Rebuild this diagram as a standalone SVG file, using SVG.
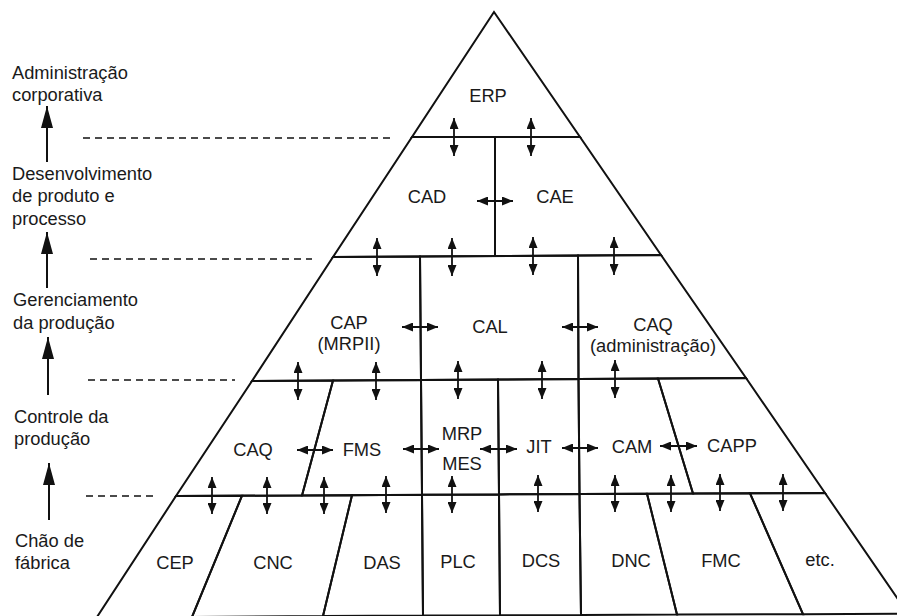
<svg xmlns="http://www.w3.org/2000/svg" width="897" height="616" viewBox="0 0 897 616">
  <style>
    .cell { fill: none; stroke: #111; stroke-width: 2; stroke-linejoin: miter; }
    .lbl { font-family: "Liberation Sans", Arial, Helvetica, sans-serif; font-size: 18.3px; fill: #1a1a1a; }
    .mid { text-anchor: middle; }
    .dbl { stroke: #111; stroke-width: 1.8; fill: none; marker-start: url(#head); marker-end: url(#head); }
    .up { stroke: #111; stroke-width: 2; fill: none; marker-end: url(#bighead); }
    .dash { stroke: #111; stroke-width: 1.6; stroke-dasharray: 7 5; fill: none; }
  </style>
  <defs>
    <marker id="head" viewBox="0 0 11 9" refX="11" refY="4.5" markerWidth="11" markerHeight="9" markerUnits="userSpaceOnUse" orient="auto-start-reverse">
      <path d="M0,0 L11,4.5 L0,9 z" fill="#111"/>
    </marker>
    <marker id="bighead" viewBox="0 0 22 12" refX="22" refY="6" markerWidth="22" markerHeight="12" markerUnits="userSpaceOnUse" orient="auto">
      <path d="M0,0 L22,6 L0,12 z" fill="#111"/>
    </marker>
  </defs>

  <rect x="0" y="0" width="897" height="616" fill="#fff"/>

  <!-- level scale on the left -->
  <g id="scale">
    <text class="lbl" x="12" y="79">Administração</text>
    <text class="lbl" x="12" y="101">corporativa</text>
    <text class="lbl" x="12" y="180">Desenvolvimento</text>
    <text class="lbl" x="12" y="202">de produto e</text>
    <text class="lbl" x="12" y="225">processo</text>
    <text class="lbl" x="13" y="306">Gerenciamento</text>
    <text class="lbl" x="13" y="329">da produção</text>
    <text class="lbl" x="14" y="423">Controle da</text>
    <text class="lbl" x="14" y="445">produção</text>
    <text class="lbl" x="15" y="547">Chão de</text>
    <text class="lbl" x="15" y="569">fábrica</text>
    <line class="up" x1="47" y1="162" x2="47" y2="106"/>
    <line class="up" x1="47" y1="288" x2="47" y2="232"/>
    <line class="up" x1="48" y1="395" x2="48" y2="337"/>
    <line class="up" x1="49" y1="520" x2="49" y2="463"/>
    <line class="dash" x1="83" y1="138" x2="392" y2="138"/>
    <line class="dash" x1="90" y1="259" x2="312" y2="259"/>
    <line class="dash" x1="88" y1="380" x2="235" y2="380"/>
    <line class="dash" x1="86" y1="496" x2="155" y2="496"/>
  </g>

  <!-- pyramid cells: top level -->
  <g id="erp">
    <polygon class="cell" points="494,12 580,137 412,137"/>
    <text class="lbl mid" x="488" y="102">ERP</text>
  </g>

  <!-- product and process development -->
  <g id="cad">
    <polygon class="cell" points="412,137 495,137 495,256 333,257"/>
    <text class="lbl mid" x="427" y="203">CAD</text>
  </g>
  <g id="cae">
    <polygon class="cell" points="495,137 580,137 661,255 495,256"/>
    <text class="lbl mid" x="555" y="203">CAE</text>
  </g>

  <!-- production management -->
  <g id="cap">
    <polygon class="cell" points="333,257 420,256.5 421,380 252,381"/>
    <text class="lbl mid" x="349" y="329">CAP</text>
    <text class="lbl mid" x="349" y="350">(MRPII)</text>
  </g>
  <g id="cal">
    <polygon class="cell" points="420,256.5 578,255.5 578.5,379 421,380"/>
    <text class="lbl mid" x="490" y="333">CAL</text>
  </g>
  <g id="caq-adm">
    <polygon class="cell" points="578,255.5 661,255 746,378 578.5,379"/>
    <text class="lbl mid" x="653" y="331">CAQ</text>
    <text class="lbl mid" x="653" y="352">(administração)</text>
  </g>

  <!-- production control -->
  <g id="caq">
    <polygon class="cell" points="252,381 333,380.5 302,495.4 176,496"/>
    <text class="lbl mid" x="253" y="456">CAQ</text>
  </g>
  <g id="fms">
    <polygon class="cell" points="333,380.5 421,380 422,494.8 302,495.4"/>
    <text class="lbl mid" x="362" y="456">FMS</text>
  </g>
  <g id="mrp-mes">
    <polygon class="cell" points="421,380 498,379.5 499,494.4 422,494.8"/>
    <text class="lbl mid" x="462" y="440">MRP</text>
    <text class="lbl mid" x="462" y="470">MES</text>
  </g>
  <g id="jit">
    <polygon class="cell" points="498,379.5 578.5,379 579.5,494 499,494.4"/>
    <text class="lbl mid" x="539" y="453">JIT</text>
  </g>
  <g id="cam">
    <polygon class="cell" points="578.5,379 658,378.5 693,493.5 579.5,494"/>
    <text class="lbl mid" x="632" y="453">CAM</text>
  </g>
  <g id="capp">
    <polygon class="cell" points="658,378.5 746,378 825,493 693,493.5"/>
    <text class="lbl mid" x="732" y="452">CAPP</text>
  </g>

  <!-- shop floor -->
  <g id="cep">
    <polygon class="cell" points="176,496 242,495.7 192,617 97,617"/>
    <text class="lbl mid" x="175" y="569">CEP</text>
  </g>
  <g id="cnc">
    <polygon class="cell" points="242,495.7 352,495.2 323,616 192,617"/>
    <text class="lbl mid" x="273" y="569">CNC</text>
  </g>
  <g id="das">
    <polygon class="cell" points="352,495.2 422,494.8 423,615.5 323,616"/>
    <text class="lbl mid" x="382" y="569">DAS</text>
  </g>
  <g id="plc">
    <polygon class="cell" points="422,494.8 499,494.4 500,615.2 423,615.5"/>
    <text class="lbl mid" x="458" y="568">PLC</text>
  </g>
  <g id="dcs">
    <polygon class="cell" points="499,494.4 579.5,494 581,614.9 500,615.2"/>
    <text class="lbl mid" x="541" y="567">DCS</text>
  </g>
  <g id="dnc">
    <polygon class="cell" points="579.5,494 647,493.7 677,614.6 581,614.9"/>
    <text class="lbl mid" x="631" y="567">DNC</text>
  </g>
  <g id="fmc">
    <polygon class="cell" points="647,493.7 750,493.3 803,614.2 677,614.6"/>
    <text class="lbl mid" x="721" y="567">FMC</text>
  </g>
  <g id="etc">
    <polygon class="cell" points="750,493.3 825,493 908,613.7 803,614.2"/>
    <text class="lbl mid" x="820" y="566">etc.</text>
  </g>

  <!-- two-way links between cells -->
  <g id="connectors">
    <line class="dbl" x1="454" y1="118" x2="454" y2="156"/>
    <line class="dbl" x1="531" y1="118" x2="531" y2="156"/>
    <line class="dbl" x1="477" y1="201" x2="513" y2="201"/>

    <line class="dbl" x1="377" y1="238" x2="377" y2="276"/>
    <line class="dbl" x1="452" y1="238" x2="452" y2="276"/>
    <line class="dbl" x1="533" y1="237" x2="533" y2="275"/>
    <line class="dbl" x1="614" y1="237" x2="614" y2="275"/>

    <line class="dbl" x1="402" y1="327" x2="438" y2="327"/>
    <line class="dbl" x1="562" y1="327" x2="598" y2="327"/>

    <line class="dbl" x1="298" y1="362" x2="298" y2="400"/>
    <line class="dbl" x1="376" y1="362" x2="376" y2="400"/>
    <line class="dbl" x1="458" y1="361" x2="458" y2="399"/>
    <line class="dbl" x1="542" y1="361" x2="542" y2="399"/>
    <line class="dbl" x1="615" y1="360" x2="615" y2="398"/>

    <line class="dbl" x1="297" y1="450" x2="333" y2="450"/>
    <line class="dbl" x1="403" y1="449" x2="439" y2="449"/>
    <line class="dbl" x1="480" y1="449" x2="517" y2="449"/>
    <line class="dbl" x1="562" y1="448" x2="598" y2="448"/>
    <line class="dbl" x1="660" y1="446" x2="697" y2="446"/>

    <line class="dbl" x1="212" y1="477" x2="212" y2="514"/>
    <line class="dbl" x1="267" y1="477" x2="267" y2="514"/>
    <line class="dbl" x1="324" y1="477" x2="324" y2="514"/>
    <line class="dbl" x1="386" y1="476" x2="386" y2="513"/>
    <line class="dbl" x1="452" y1="476" x2="452" y2="513"/>
    <line class="dbl" x1="538" y1="475" x2="538" y2="512"/>
    <line class="dbl" x1="615" y1="475" x2="615" y2="512"/>
    <line class="dbl" x1="671" y1="475" x2="671" y2="512"/>
    <line class="dbl" x1="720" y1="474" x2="720" y2="511"/>
    <line class="dbl" x1="783" y1="474" x2="783" y2="511"/>
  </g>
</svg>
